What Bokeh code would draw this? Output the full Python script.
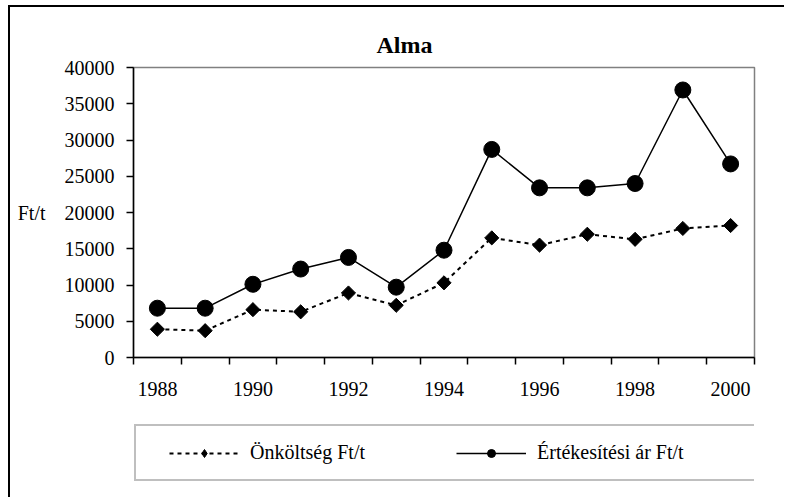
import numpy as np
from bokeh.plotting import figure
from bokeh.layouts import column
from bokeh.models import FixedTicker, Legend, LegendItem, Range1d
from bokeh.embed import file_html
from bokeh.resources import INLINE

years = [1988, 1989, 1990, 1991, 1992, 1993, 1994, 1995, 1996, 1997, 1998, 1999, 2000]
onkoltseg = [3900, 3700, 6600, 6300, 8900, 7200, 10300, 16500, 15500, 17000, 16300, 17800, 18200]
ertekesitesi = [6800, 6800, 10100, 12200, 13800, 9700, 14800, 28700, 23400, 23400, 24000, 36900, 26700]
label_years = [1988, 1990, 1992, 1994, 1996, 1998, 2000]
y_ticks = [0, 5000, 10000, 15000, 20000, 25000, 30000, 35000, 40000]

FONT = "Liberation Serif"

p = figure(width=774, height=411,
           min_border_left=123, min_border_right=30, min_border_top=60, min_border_bottom=61,
           x_range=Range1d(years[0] - 0.5, years[-1] + 0.5), y_range=Range1d(0, 40000),
           output_backend="svg", toolbar_location=None, title="Alma")

p.title.text_font = FONT
p.title.text_font_size = "24px"
p.title.text_font_style = "bold"
p.title.text_color = "black"
p.title.align = "left"
p.title.offset = 243
p.title.standoff = 20

p.xgrid.visible = False
p.ygrid.visible = False
p.outline_line_color = "#808080"
p.outline_line_width = 1.5
p.background_fill_color = "white"
p.border_fill_color = "white"

# x axis: labels at category centres, ticks at category boundaries
xa = p.xaxis[0]
boundaries = [y - 0.5 for y in years] + [years[-1] + 0.5]
xa.ticker = FixedTicker(ticks=label_years, minor_ticks=boundaries)
xa.major_tick_out = 0
xa.major_tick_in = 0
xa.minor_tick_out = 7
xa.minor_tick_in = 0
xa.minor_tick_line_color = "black"
xa.minor_tick_line_width = 1.5
xa.axis_line_color = "black"
xa.axis_line_width = 1.5
xa.major_label_standoff = 17
xa.major_label_text_font = FONT
xa.major_label_text_font_size = "20px"
xa.major_label_text_color = "black"
xa.major_label_overrides = {y: str(y) for y in label_years}

ya = p.yaxis[0]
ya.ticker = FixedTicker(ticks=y_ticks, minor_ticks=[])
ya.major_tick_out = 7
ya.major_tick_in = 0
ya.major_tick_line_color = "black"
ya.major_tick_line_width = 1.5
ya.axis_line_color = "black"
ya.axis_line_width = 1.5
ya.major_label_standoff = 12
ya.major_label_text_font = FONT
ya.major_label_text_font_size = "20px"
ya.major_label_text_color = "black"
ya.major_label_overrides = {v: str(v) for v in y_ticks}
ya.axis_label = "Ft/t"
ya.axis_label_orientation = "horizontal"
ya.axis_label_standoff = 16
ya.axis_label_text_font = FONT
ya.axis_label_text_font_size = "20px"
ya.axis_label_text_font_style = "normal"
ya.axis_label_text_color = "black"

def add_series(fig, for_legend=False):
    a = fig.line(years, onkoltseg, line_color="black", line_width=2, line_dash="4 4")
    if for_legend:
        b = fig.scatter(years, onkoltseg, marker="diamond", size=16,
                        fill_color="black", line_color="black")
    else:
        b = fig.scatter(years, onkoltseg, marker="square", angle=np.pi / 4, size=10,
                        fill_color="black", line_color="black")
    c = fig.line(years, ertekesitesi, line_color="black", line_width=1.5)
    d = fig.scatter(years, ertekesitesi, marker="circle", size=16,
                    fill_color="black", line_color="black")
    return a, b, c, d

add_series(p)

# legend strip below the chart (series drawn out of view, used for legend glyphs)
lg = figure(width=774, height=79, min_border_left=0, min_border_right=0,
            min_border_top=0, min_border_bottom=0,
            x_range=Range1d(0, 1), y_range=Range1d(0, 1),
            x_axis_type=None, y_axis_type=None,
            output_backend="svg", toolbar_location=None)
lg.xgrid.visible = False
lg.ygrid.visible = False
lg.outline_line_color = None
lg.background_fill_color = "white"
lg.border_fill_color = "white"
l1, s1, l2, s2 = add_series(lg, for_legend=True)

legend = Legend(items=[LegendItem(label="Önköltség Ft/t", renderers=[l1, s1]),
                       LegendItem(label="Értékesítési ár Ft/t", renderers=[l2, s2])],
                orientation="horizontal", location=(1, 16))
legend.glyph_width = 70
legend.glyph_height = 20
legend.label_standoff = 11
legend.label_width = 203
legend.spacing = 3
legend.padding = 15
legend.margin = 0
legend.label_text_font = FONT
legend.label_text_font_size = "20px"
legend.label_text_color = "black"
legend.border_line_color = "#808080"
legend.border_line_width = 2
legend.background_fill_color = "white"
legend.background_fill_alpha = 1
try:
    legend.title_location = "left"
    legend.title = " "
    legend.title_text_font_size = "8px"
    legend.title_standoff = 9
except Exception:
    pass
lg.add_layout(legend, "center")

layout = column(p, lg, spacing=0)
layout.styles = {"margin-left": "8px", "margin-top": "5px",
                 "border-left": "2px solid #000000", "border-top": "2px solid #000000"}

open("out.html", "w").write(file_html(layout, INLINE))
